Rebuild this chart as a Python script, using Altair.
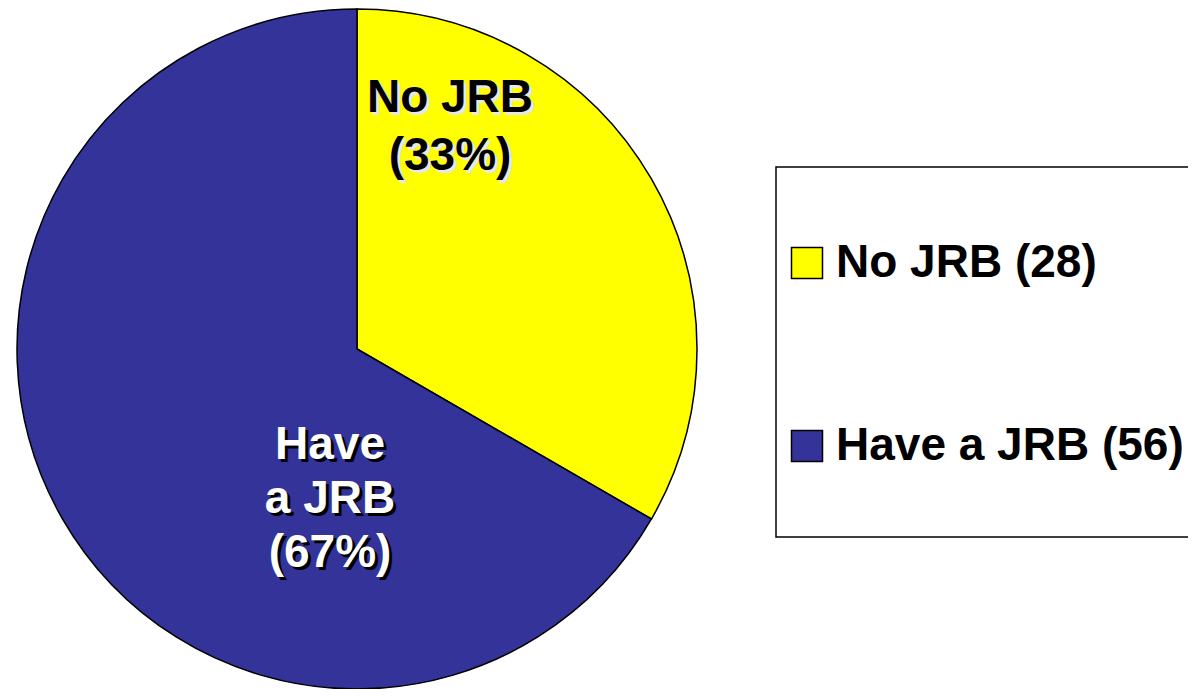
import altair as alt
import pandas as pd

categories = ["No JRB", "Have a JRB"]
counts = [28, 56]
colors = ["#FFFF00", "#333399"]

total = sum(counts)
pcts = [round(100 * n / total) for n in counts]

df = pd.DataFrame({
    "category": categories,
    "count": counts,
    "idx": list(range(len(categories))),
    "legend": [f"{c} ({n})" for c, n in zip(categories, counts)],
    "txt": [
        f"{categories[0]}\n({pcts[0]}%)",
        f"Have\na JRB\n({pcts[1]}%)",
    ],
})

legend_domain = list(df["legend"])

FONT = "Liberation Sans"

base = alt.Chart(df)

box = base.mark_rect(fill="white", stroke="black", strokeWidth=1.5).encode(
    x=alt.value(768), x2=alt.value(1200), y=alt.value(159), y2=alt.value(529)
).transform_filter(alt.datum.idx == 0)

pie = base.mark_arc(outerRadius=340, stroke="black", strokeWidth=1.5).encode(
    theta=alt.Theta("count:Q", stack=True),
    order=alt.Order("idx:O"),
    color=alt.Color(
        "legend:N",
        scale=alt.Scale(domain=legend_domain, range=colors),
        legend=alt.Legend(
            orient="none", legendX=776, legendY=232, title=None,
            symbolType="square", symbolSize=961, symbolStrokeColor="black",
            symbolStrokeWidth=1.5, symbolOpacity=1,
            labelFont=FONT, labelFontSize=46, labelFontWeight="bold",
            labelColor="black", labelLimit=0, labelOffset=6,
            rowPadding=137, padding=0,
        ),
    ),
    x=alt.value(349),
    y=alt.value(341),
)


def label_layers(cat, x, y, color, shadow, lh):
    d = base.transform_filter(alt.datum.category == cat)
    common = dict(font=FONT, fontSize=46, fontWeight="bold", align="center",
                  baseline="alphabetic", lineBreak="\n", lineHeight=lh)
    sh = d.mark_text(color=shadow, **common).encode(
        x=alt.value(x + 3), y=alt.value(y + 3), text="txt:N")
    fg = d.mark_text(color=color, **common).encode(
        x=alt.value(x), y=alt.value(y), text="txt:N")
    return sh, fg


y_sh, y_fg = label_layers("No JRB", 442, 104, "black", "#e8e8e8", 58)
b_sh, b_fg = label_layers("Have a JRB", 322, 451, "white", "black", 54)

chart = alt.layer(box, pie, y_sh, y_fg, b_sh, b_fg).properties(
    width=1180, height=681, autosize=alt.AutoSizeParams(type="none"),
    padding=0, background="white",
).configure_view(stroke=None)

chart.save("out.html", embed_options={"renderer": "svg", "actions": False})
